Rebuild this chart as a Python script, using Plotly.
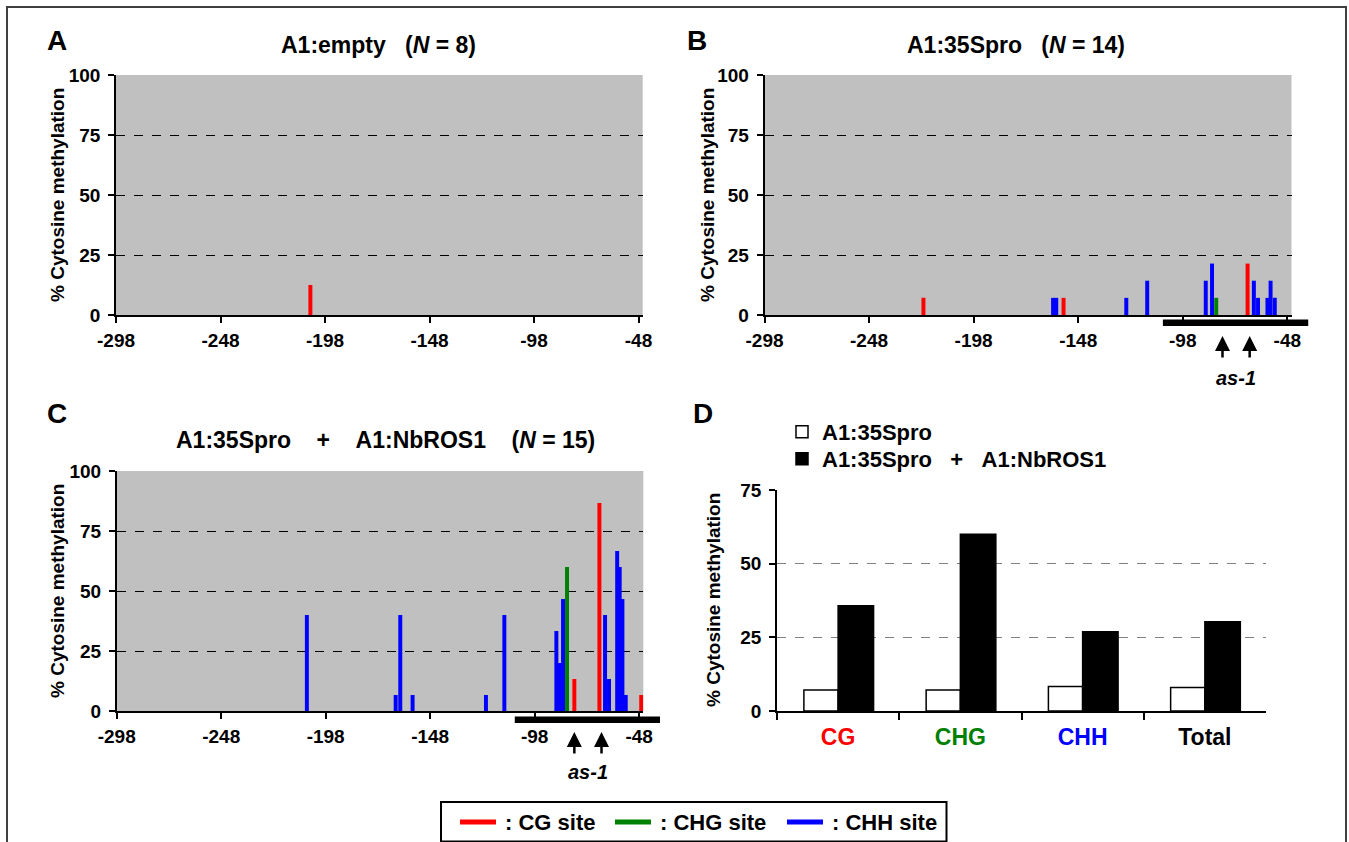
import plotly.graph_objects as go

W, H = 1349, 842
FONT = "Liberation Sans, Arial, sans-serif"
RED, GREEN, BLUE = "#ff0000", "#008000", "#0000ff"
GRAY_BG = "#c0c0c0"

# ---------------- data ----------------
x_tick_vals = [-298, -248, -198, -148, -98, -48]
x_tick_text = ["-298", "-248", "-198", "-148", "-98", "-48"]
y_tick_vals = [0, 25, 50, 75, 100]
x_range = [-298, -46]

# Panel A (N = 8)
a_cg_pos = [-205]
a_cg_val = [12.5]

# Panel B (N = 14)
b_cg_pos = [-222, -155, -67]
b_cg_val = [7.14, 7.14, 21.43]
b_chg_pos = [-82]
b_chg_val = [7.14]
b_chh_pos = [-160, -158.5, -125, -115, -87, -84, -64, -62, -57.5, -56, -54]
b_chh_val = [7.14, 7.14, 7.14, 14.29, 14.29, 21.43, 14.29, 7.14, 7.14, 14.29, 7.14]

# Panel C (N = 15)
c_cg_pos = [-79, -67, -47]
c_cg_val = [13.33, 86.67, 6.67]
c_chg_pos = [-82.5]
c_chg_val = [60.0]
c_chh_pos = [-207, -164.5, -162.3, -156.4, -121.3, -112.5, -87.6, -86, -84.4,
             -64.3, -62.4, -58.5, -57.3, -56, -54.4]
c_chh_val = [40, 6.67, 40, 6.67, 6.67, 40, 33.33, 20, 46.67,
             40, 13.33, 66.67, 60, 46.67, 6.67]

# as-1 elements and promoter region
as1_pos = [-79, -66]
region = [-107.5, -38]

# Panel D
d_categories = ["CG", "CHG", "CHH", "Total"]
d_cat_colors = [RED, GREEN, BLUE, "#000000"]
d_35spro = [7.1, 7.1, 8.3, 8.0]
d_35spro_ros1 = [35.7, 60.0, 26.9, 30.3]
d_y_ticks = [0, 25, 50, 75]

# site legend
site_labels = [": CG site", ": CHG site", ": CHH site"]
site_colors = [RED, GREEN, BLUE]

# ---------------- layout helpers ----------------
def px(x):
    return x / W

def py(y):
    return 1 - y / H

dom = {
    "A": dict(x=[px(116), px(642.7)], y=[py(315), py(75)]),
    "B": dict(x=[px(764.5), px(1291.5)], y=[py(315), py(75)]),
    "C": dict(x=[px(116.7), px(643.3)], y=[py(711), py(471)]),
    "D": dict(x=[px(777), px(1266)], y=[py(711), py(490)]),
}

def data2paper(v, panel):
    d0, d1 = dom[panel]["x"]
    return d0 + (v - x_range[0]) / (x_range[1] - x_range[0]) * (d1 - d0)

tickfont = dict(family=FONT, size=19, color="black", weight="bold")

fig = go.Figure()

def add_bars(pos, val, color, ax):
    fig.add_trace(go.Bar(x=pos, y=val, width=1.9, marker=dict(color=color, line=dict(width=0)),
                         xaxis="x" + ax, yaxis="y" + ax, showlegend=False, hoverinfo="x+y"))

add_bars(a_cg_pos, a_cg_val, RED, "")
add_bars(b_chh_pos, b_chh_val, BLUE, "2")
add_bars(b_chg_pos, b_chg_val, GREEN, "2")
add_bars(b_cg_pos, b_cg_val, RED, "2")
add_bars(c_chh_pos, c_chh_val, BLUE, "3")
add_bars(c_chg_pos, c_chg_val, GREEN, "3")
add_bars(c_cg_pos, c_cg_val, RED, "3")

# Panel D bars (each in its own legend box so the rows sit where the reference has them)
fig.add_trace(go.Bar(x=d_categories, y=d_35spro, name="A1:35Spro", offset=-0.28, width=0.28,
                     marker=dict(color="white", line=dict(color="black", width=1.5)),
                     xaxis="x4", yaxis="y4", legend="legend"))
fig.add_trace(go.Bar(x=d_categories, y=d_35spro_ros1,
                     name="A1:35Spro&nbsp;&nbsp;&nbsp;+&nbsp;&nbsp;&nbsp;A1:NbROS1",
                     offset=0.0, width=0.29,
                     marker=dict(color="black", line=dict(color="black", width=1.5)),
                     xaxis="x4", yaxis="y4", legend="legend2"))

legfont = dict(family=FONT, size=22, color="black", weight="bold")
layout = dict(
    template="none",
    width=W, height=H, margin=dict(l=0, r=0, t=0, b=0, pad=0, autoexpand=False),
    paper_bgcolor="white", plot_bgcolor="white", barmode="overlay",
    font=dict(family=FONT, color="black"),
    legend=dict(x=px(782), y=py(432), xanchor="left", yanchor="middle", font=legfont,
                bgcolor="rgba(0,0,0,0)", itemclick=False, borderwidth=0),
    legend2=dict(x=px(782), y=py(459), xanchor="left", yanchor="middle", font=legfont,
                 bgcolor="rgba(0,0,0,0)", itemclick=False, borderwidth=0),
)

for key, panel in [("", "A"), ("2", "B"), ("3", "C")]:
    layout["xaxis" + key] = dict(
        domain=dom[panel]["x"], anchor="y" + key, range=x_range, tickvals=x_tick_vals,
        ticktext=x_tick_text,
        showline=True, linecolor="black", linewidth=1.5, ticks="outside", ticklen=6,
        tickcolor="black", tickwidth=1.5, showgrid=False, zeroline=False, automargin=False,
        tickfont=tickfont, ticklabelstandoff=1, fixedrange=True)
    layout["yaxis" + key] = dict(
        domain=dom[panel]["y"], anchor="x" + key, range=[0, 100], tickvals=y_tick_vals,
        showline=True, linecolor="black", linewidth=1.5, ticks="outside", ticklen=6,
        tickcolor="black", tickwidth=1.5, showgrid=True, gridcolor="black", gridwidth=1,
        griddash="dash", zeroline=False, tickfont=tickfont, ticklabelstandoff=4,
        automargin=False, fixedrange=True)

layout["xaxis4"] = dict(
    domain=dom["D"]["x"], anchor="y4", type="category",
    tickvals=d_categories,
    ticktext=[f'<span style="color:{c}">{t}</span>' for t, c in zip(d_categories, d_cat_colors)],
    tickson="boundaries", showline=True, linecolor="black", linewidth=1.5, ticks="outside",
    ticklen=7, tickcolor="black", tickwidth=1.5, showgrid=False, zeroline=False,
    tickfont=dict(family=FONT, size=23, color="black", weight="bold"), automargin=False,
    ticklabelstandoff=5, range=[-0.5, 3.5], fixedrange=True)
layout["yaxis4"] = dict(
    domain=dom["D"]["y"], anchor="x4", range=[0, 75], tickvals=d_y_ticks,
    showline=True, linecolor="black", linewidth=1.5, ticks="outside", ticklen=6,
    tickcolor="black", tickwidth=1.5, showgrid=True, gridcolor="#808080", gridwidth=1,
    griddash="dash", zeroline=False, tickfont=tickfont, ticklabelstandoff=4,
    automargin=False, fixedrange=True)

shapes = []
# outer frame
shapes.append(dict(type="rect", xref="paper", yref="paper", x0=px(7), x1=px(1346),
                   y0=-0.02, y1=py(7), line=dict(color="#404040", width=2)))
# gray plot backgrounds
for key in ["", "2", "3"]:
    xr = "x" + key if key else "x"
    shapes.append(dict(type="rect", xref=f"{xr} domain", yref=f"y{key} domain",
                       x0=0, x1=1, y0=0, y1=1, fillcolor=GRAY_BG, line=dict(width=0),
                       layer="below"))
# promoter region bars
for panel, ytop in [("B", 319.5), ("C", 716.5)]:
    shapes.append(dict(type="rect", xref="paper", yref="paper",
                       x0=data2paper(region[0], panel), x1=data2paper(region[1], panel),
                       y0=py(ytop + 6.5), y1=py(ytop), fillcolor="black", line=dict(width=0)))

annotations = []
def txt(x, y, text, size, anchor="center", **kw):
    annotations.append(dict(x=px(x), y=py(y), xref="paper", yref="paper", text=text,
                            xanchor=anchor, yanchor="middle",
                            showarrow=False, font=dict(family=FONT, size=size, color="black",
                                                       weight="bold"), **kw))

# bottom site-colour legend box
shapes.append(dict(type="rect", xref="paper", yref="paper", x0=px(441), x1=px(946.5),
                   y0=py(841.5), y1=py(802), line=dict(color="black", width=2),
                   fillcolor="white"))
for lab, col, sx, tx in zip(site_labels, site_colors, [460, 615, 787], [503, 658, 830]):
    shapes.append(dict(type="line", xref="paper", yref="paper", x0=px(sx), x1=px(sx + 36),
                       y0=py(822), y1=py(822), line=dict(color=col, width=5)))
    txt(tx, 822, lab, 22, anchor="left")

txt(57, 40, "A", 28)
txt(697, 40, "B", 28)
txt(57, 413, "C", 28)
txt(703, 413, "D", 28)

sp = "&nbsp;"
txt(378, 45, f"A1:empty{sp}{sp}{sp}(<i>N</i> = 8)", 23)
txt(1016, 45, f"A1:35Spro{sp}{sp}{sp}(<i>N</i> = 14)", 23)
txt(385, 440, f"A1:35Spro{sp*4}+{sp*4}A1:NbROS1{sp*4}(<i>N</i> = 15)", 23)

for (x, y) in [(57, 195), (707, 195), (57, 591), (713, 600)]:
    txt(x, y, "% Cytosine methylation", 19, textangle=-90)

# as-1 arrows and labels
for panel, key, tip_y, lab_y in [("B", "x2", 336, 378), ("C", "x3", 732, 772)]:
    for p in as1_pos:
        annotations.append(dict(x=p, y=py(tip_y), xref=key, yref="paper", text="",
                                showarrow=True, arrowhead=2, arrowsize=1.2, arrowwidth=2.5,
                                arrowcolor="black", ax=0, ay=23))
    annotations.append(dict(x=sum(as1_pos) / 2, y=py(lab_y), xref=key, yref="paper",
                            text="<i>as-1</i>", showarrow=False, xanchor="center",
                            yanchor="middle",
                            font=dict(family=FONT, size=20, color="black", weight="bold")))

layout["shapes"] = shapes
layout["annotations"] = annotations
fig.update_layout(**layout)

fig.write_html("out.html", config={"displayModeBar": False},
               post_script="document.body.style.margin='0';")
